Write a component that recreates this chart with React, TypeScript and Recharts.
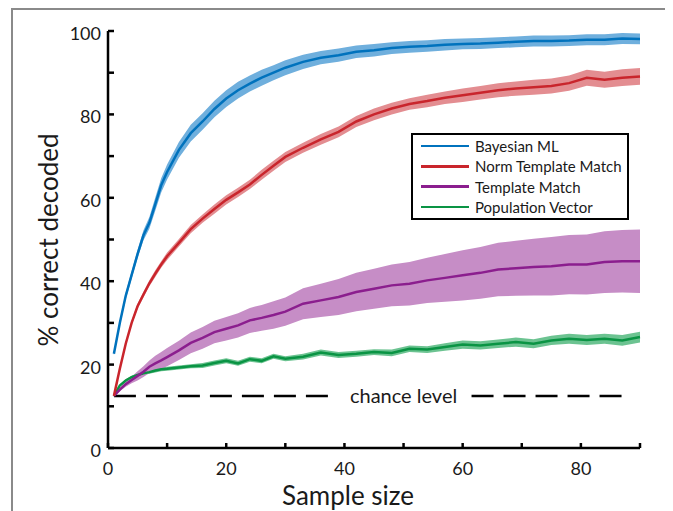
import React from 'react';
import { ComposedChart, Area, Line, XAxis, YAxis, ReferenceLine, ReferenceDot, Legend } from 'recharts';

const sampleSize = [1, 2, 3, 4, 5, 6, 7, 8, 9, 10, 12, 14, 16, 18, 20, 22, 24, 26, 28, 30, 33, 36, 39, 42, 45, 48, 51, 54, 57, 60, 63, 66, 69, 72, 75, 78, 81, 84, 87, 90];

const bayesianMean = [22.6, 30, 36.5, 41.5, 46.5, 51, 54, 58.5, 63, 66.2, 71.5, 75.5, 78.3, 81.3, 83.8, 85.8, 87.4, 88.8, 90, 91.2, 92.6, 93.6, 94.2, 95, 95.4, 95.9, 96.2, 96.4, 96.7, 96.9, 97, 97.2, 97.4, 97.6, 97.6, 97.7, 97.9, 97.9, 98.2, 98.1];
const bayesianErr = [0.4, 0.6, 0.8, 0.9, 1, 1.2, 1.4, 1.6, 1.7, 1.8, 1.9, 2, 2, 2, 2, 2, 1.9, 1.9, 1.8, 1.8, 1.7, 1.6, 1.6, 1.5, 1.5, 1.4, 1.4, 1.4, 1.4, 1.3, 1.3, 1.3, 1.3, 1.3, 1.3, 1.3, 1.3, 1.3, 1.3, 1.3];

const normTemplateMean = [12.5, 19, 25, 30, 34, 36.8, 39.5, 41.8, 44, 46, 49.2, 52.5, 55, 57.3, 59.5, 61.3, 63.2, 65.5, 67.7, 69.8, 72, 74, 75.8, 78.3, 80, 81.4, 82.5, 83.2, 84, 84.6, 85.2, 85.8, 86.2, 86.5, 86.8, 87.5, 88.8, 88.3, 88.8, 89.1];
const normTemplateErr = [0.2, 0.3, 0.4, 0.5, 0.6, 0.7, 0.7, 0.8, 0.8, 0.9, 0.9, 1, 1, 1.1, 1.1, 1.1, 1.1, 1.2, 1.2, 1.2, 1.2, 1.3, 1.3, 1.3, 1.4, 1.4, 1.4, 1.5, 1.5, 1.6, 1.6, 1.7, 1.7, 1.8, 1.8, 1.8, 1.9, 1.9, 2, 2];

const templateMean = [12.5, 14, 15.3, 16.3, 17.3, 18.3, 19.5, 20.3, 21, 21.8, 23.4, 25.2, 26.4, 27.8, 28.6, 29.4, 30.6, 31.2, 31.9, 32.7, 34.6, 35.4, 36.2, 37.4, 38.2, 39, 39.4, 40.2, 40.8, 41.4, 42, 42.8, 43.1, 43.4, 43.6, 44, 44, 44.6, 44.8, 44.8];
const templateErr = [0.2, 0.4, 0.6, 0.8, 1.1, 1.3, 1.5, 1.8, 2, 2.2, 2.3, 2.5, 2.6, 2.7, 2.8, 2.9, 3, 3.1, 3.3, 3.4, 3.7, 4, 4.3, 4.6, 4.8, 5, 5.2, 5.4, 5.7, 6, 6.2, 6.4, 6.6, 6.8, 7, 7.1, 7.2, 7.4, 7.5, 7.6];

const populationMean = [12.5, 15, 16.2, 17, 17.5, 17.9, 18.2, 18.6, 18.9, 19, 19.3, 19.6, 19.8, 20.4, 20.9, 20.3, 21.3, 20.9, 22, 21.4, 21.9, 22.9, 22.3, 22.6, 23, 22.8, 23.8, 23.6, 24.2, 24.8, 24.6, 25, 25.4, 25, 25.8, 26.2, 25.9, 26.2, 25.8, 26.6];
const populationErr = [0.1, 0.2, 0.3, 0.3, 0.4, 0.4, 0.4, 0.5, 0.5, 0.5, 0.5, 0.5, 0.6, 0.6, 0.6, 0.6, 0.6, 0.6, 0.6, 0.6, 0.7, 0.7, 0.7, 0.7, 0.7, 0.8, 0.8, 0.8, 0.9, 1, 1, 1, 1.1, 1.1, 1.1, 1.2, 1.2, 1.2, 1.3, 1.3];

const seriesNames = ['Bayesian ML', 'Norm Template Match', 'Template Match', 'Population Vector'];
const lineColors = ['#0072BD', '#C9252C', '#8B1E8E', '#0A9444'];
const bandColors = ['#6FAFDD', '#E38D91', '#C68DC6', '#6CC391'];

const xTicks = [0, 10, 20, 30, 40, 50, 60, 70, 80, 90];
const yTicks = [0, 10, 20, 30, 40, 50, 60, 70, 80, 90, 100];
const chanceLevel = 12.5;

const means = [bayesianMean, normTemplateMean, templateMean, populationMean];
const errs = [bayesianErr, normTemplateErr, templateErr, populationErr];
const keys = ['bml', 'ntm', 'tm', 'pv'];

const data = sampleSize.map((x, i) => {
  const row: any = { x };
  keys.forEach((k, s) => {
    row[k] = means[s][i];
    row[k + 'Band'] = [means[s][i] - errs[s][i], means[s][i] + errs[s][i]];
  });
  return row;
});

const FONT = 'Lato, "Open Sans", sans-serif';

const YTick = (props: any) => {
  const { x, y, payload } = props;
  const v = payload.value;
  return (
    <g>
      <line x1={x} y1={y} x2={x + 6} y2={y} stroke="#000" strokeWidth={2.5} />
      {v % 20 === 0 && (
        <text x={x - 7} y={y + 9} textAnchor="end" fontSize={18} fill="#1a1a1a" fontFamily={FONT}>
          {v}
        </text>
      )}
    </g>
  );
};

const XTick = (props: any) => {
  const { x, y, payload } = props;
  const v = payload.value;
  return (
    <g>
      <line x1={x} y1={y} x2={x} y2={y - 5} stroke="#000" strokeWidth={2.5} />
      {v % 20 === 0 && (
        <text x={x} y={y + 27} textAnchor="middle" fontSize={18} fill="#1a1a1a" fontFamily={FONT}>
          {v}
        </text>
      )}
    </g>
  );
};

const renderLegend = () => (
  <div
    style={{
      boxSizing: 'border-box',
      width: 218,
      height: 87,
      border: '2.5px solid #000',
      background: '#fff',
      padding: '1px 0 0 8px',
      fontFamily: FONT,
      fontSize: 15,
      color: '#1a1a1a',
    }}
  >
    {seriesNames.map((name, i) => (
      <div key={name} style={{ display: 'flex', alignItems: 'center', height: 20.3 }}>
        <span style={{ display: 'inline-block', width: 48, height: 2.5, background: lineColors[i], marginRight: 6 }} />
        <span>{name}</span>
      </div>
    ))}
  </div>
);

export default function App() {
  return (
    <div style={{ position: 'relative', width: 665, height: 503 }}>
      <div
        style={{
          position: 'absolute',
          left: 3,
          top: 0,
          width: 658,
          height: 520,
          borderLeft: '2px solid #8a8a8a',
          borderRight: '2px solid #8a8a8a',
          borderTop: '2px solid #8a8a8a',
        }}
      />
      <div style={{ position: 'absolute', left: 0, top: 0 }}>
        <ComposedChart width={665} height={503} data={data} margin={{ top: 23, right: 33, left: 0, bottom: 0 }}>
          <XAxis
            dataKey="x"
            type="number"
            domain={[0, 90]}
            ticks={xTicks}
            interval={0}
            height={63}
            tickSize={0}
            tickMargin={0}
            tickLine={false}
            axisLine={{ stroke: '#000', strokeWidth: 2.5 }}
            tick={<XTick />}
            label={{
              content: () => (
                <text x={340} y={497} textAnchor="middle" fontSize={26} fill="#1a1a1a" fontFamily={FONT}>
                  Sample size
                </text>
              ),
            }}
          />
          <YAxis
            type="number"
            domain={[0, 100]}
            ticks={yTicks}
            interval={0}
            width={100}
            tickSize={0}
            tickMargin={0}
            tickLine={false}
            axisLine={{ stroke: '#000', strokeWidth: 2.5 }}
            tick={<YTick />}
            label={{
              content: () => (
                <text
                  x={50}
                  y={232}
                  transform="rotate(-90 50 232)"
                  textAnchor="middle"
                  fontSize={26}
                  fill="#1a1a1a"
                  fontFamily={FONT}
                >
                  % correct decoded
                </text>
              ),
            }}
          />
          {[3, 2, 1, 0].map((s) => (
            <Area
              key={keys[s] + 'Band'}
              dataKey={keys[s] + 'Band'}
              type="linear"
              stroke="none"
              fill={bandColors[s]}
              fillOpacity={1}
              isAnimationActive={false}
              legendType="none"
            />
          ))}
          <ReferenceLine
            segment={[{ x: 1, y: chanceLevel }, { x: 38, y: chanceLevel }]}
            stroke="#000"
            strokeWidth={2.5}
            strokeDasharray="22 10"
          />
          <ReferenceLine
            segment={[{ x: 61.5, y: chanceLevel }, { x: 87.3, y: chanceLevel }]}
            stroke="#000"
            strokeWidth={2.5}
            strokeDasharray="22 10"
          />
          <ReferenceDot
            x={50}
            y={chanceLevel}
            r={0}
            fill="none"
            stroke="none"
            label={{ value: 'chance level', position: 'center', fontSize: 20, fill: '#1a1a1a', fontFamily: FONT }}
          />
          {[3, 2, 1, 0].map((s) => (
            <Line
              key={keys[s]}
              dataKey={keys[s]}
              name={seriesNames[s]}
              type="linear"
              stroke={lineColors[s]}
              strokeWidth={2.5}
              dot={false}
              activeDot={false}
              isAnimationActive={false}
            />
          ))}
          <Legend
            layout="vertical"
            align="center"
            verticalAlign="middle"
            content={renderLegend}
            wrapperStyle={{ left: 403, top: 125, width: 218, height: 87 }}
          />
        </ComposedChart>
      </div>
    </div>
  );
}
